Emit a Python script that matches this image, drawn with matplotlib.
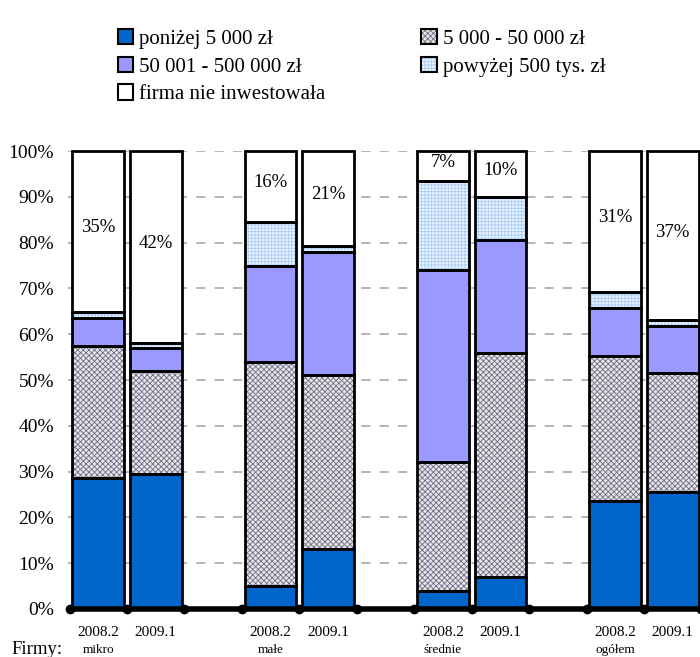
import numpy as np
import matplotlib.pyplot as plt
from matplotlib.patches import Patch

# data (shares in %)
groups = ["mikro", "małe", "średnie", "ogółem"]
periods = ["2008.2", "2009.1"]
series_names = ["poniżej 5 000 zł", "5 000 - 50 000 zł", "50 001 - 500 000 zł",
                "powyżej 500 tys. zł", "firma nie inwestowała"]

below_5k = [28.5, 29.5, 5.0, 13.0, 4.0, 7.0, 23.5, 25.5]
from_5k_50k = [29.0, 22.5, 49.0, 38.0, 28.0, 49.0, 31.8, 26.0]
from_50k_500k = [6.0, 5.0, 21.0, 27.0, 42.0, 24.5, 10.4, 10.3]
above_500k = [1.3, 1.0, 9.5, 1.3, 19.5, 9.5, 3.5, 1.2]
no_invest = [35.2, 42.0, 15.5, 20.7, 6.5, 10.0, 30.8, 37.0]
white_labels = ["35%", "42%", "16%", "21%", "7%", "10%", "31%", "37%"]

plt.rcParams['font.family'] = ['Liberation Serif', 'DejaVu Serif']
plt.rcParams['hatch.linewidth'] = 0.6

# face colour, hatch, hatch colour
styles = [
    ("#0066cc", None, None),
    ("#e4e4ea", "xxxxxx", "#6e6e80"),
    ("#9999ff", None, None),
    ("#eaf4ff", "+++++", "#a8ccf5"),
    ("#ffffff", None, None),
]

fig = plt.figure(figsize=(7, 6.57), dpi=100)
ax = fig.add_axes([0.097, 0.0731, 0.9025, 0.697])

# bar slots: two bars per group, one empty slot between groups
x = np.array([0, 1, 3, 4, 6, 7, 9, 10], dtype=float)
width = 0.9
series = [below_5k, from_5k_50k, from_50k_500k, above_500k, no_invest]

bottom = np.zeros(len(x))
for vals, (fc, hatch, hc) in zip(series, styles):
    vals = np.array(vals)
    ax.bar(x, vals, width, bottom=bottom, color=fc, hatch=hatch,
           edgecolor=hc if hc else fc, linewidth=0, zorder=2, clip_on=False)
    ax.bar(x, vals, width, bottom=bottom, fill=False, edgecolor="black",
           linewidth=2, zorder=3, clip_on=False)
    bottom += vals

# percentage labels in the white segment
for xi, b, w, lab in zip(x, bottom, no_invest, white_labels):
    ax.text(xi, b - w / 2 + 0.8, lab, ha="center", va="center",
            fontsize=13.5, zorder=4)

ax.set_xlim(-0.53, 10.47)
ax.set_ylim(0, 100)
ax.set_yticks(np.arange(0, 101, 10))
ax.set_yticklabels([f"{v}%" for v in range(0, 101, 10)])
ax.tick_params(axis="y", length=0, pad=10, labelsize=14)
ax.yaxis.grid(True, linestyle=(0, (6, 6)), color="#a0a0a0", linewidth=1.1, zorder=0)
ax.set_xticks([])
for s in ["left", "right", "top", "bottom"]:
    ax.spines[s].set_visible(False)

# thick base line with dots at slot boundaries
bounds = np.arange(-0.5, 11, 1.0)
ax.plot([-0.53, 10.47], [0, 0], color="black", linewidth=4, zorder=5,
        clip_on=False, solid_capstyle="butt")
ax.plot(bounds, np.zeros(len(bounds)), "o", color="black", markersize=6,
        zorder=6, clip_on=False)

trans = ax.get_xaxis_transform()
for i, xi in enumerate(x):
    ax.text(xi, -0.052, periods[i % 2], ha="center", va="center",
            fontsize=11, transform=trans)
for g, name in enumerate(groups):
    ax.text(x[2 * g], -0.09, name, ha="center", va="center",
            fontsize=9.5, transform=trans)
fig.text(0.053, -0.002, "Firmy:", ha="center", va="bottom", fontsize=13.5)

# legend: hatch drawn in its own colour, black outline on top
handles = []
for fc, h, hc in styles:
    fill = Patch(facecolor=fc, hatch=h, edgecolor=hc if hc else fc, linewidth=0)
    outline = Patch(fill=False, edgecolor="black", linewidth=1.5)
    handles.append((fill, outline))
order = [0, 2, 4, 1, 3]
fig.legend([handles[i] for i in order], [series_names[i] for i in order],
           loc="upper left", bbox_to_anchor=(0.153, 0.972), ncol=2,
           frameon=False, fontsize=15, handlelength=0.75, handleheight=0.75,
           handletextpad=0.3, columnspacing=4.6, labelspacing=0.38,
           borderpad=0)

fig.savefig("out.png", dpi=100)
